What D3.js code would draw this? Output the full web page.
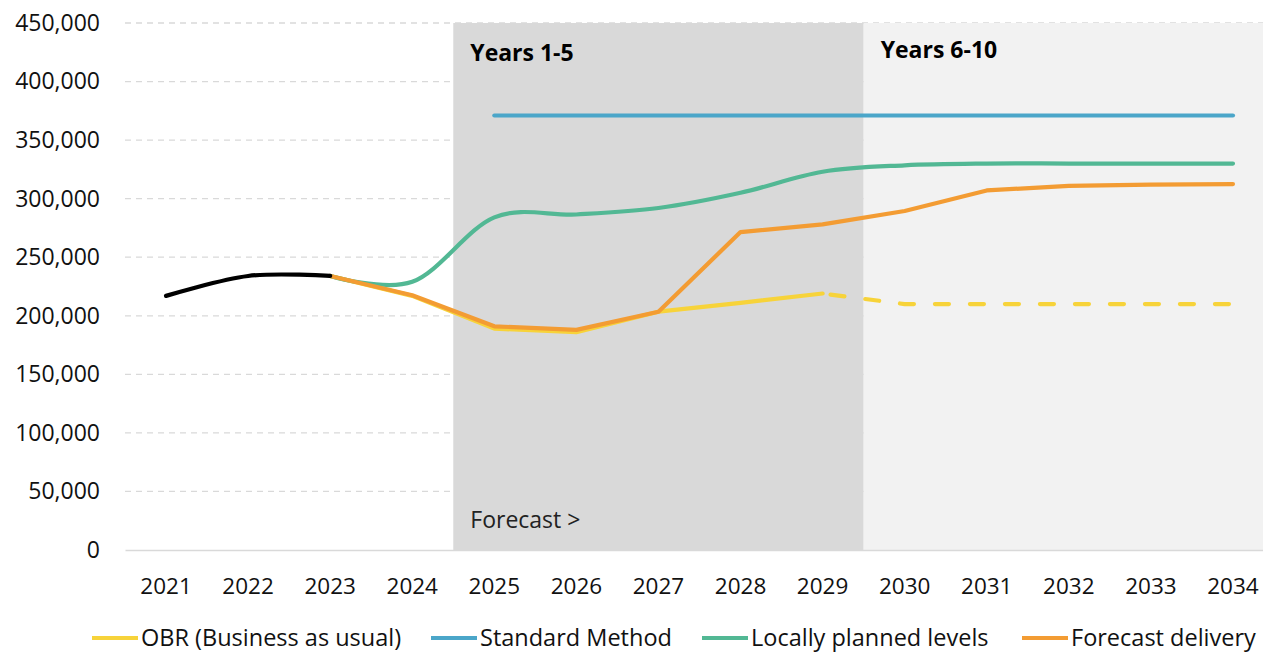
<!DOCTYPE html>
<html>
<head>
<meta charset="utf-8">
<script src="https://cdn.jsdelivr.net/npm/d3@7"></script>
<style>
  html, body { margin: 0; padding: 0; background: #ffffff; }
  svg { display: block; font-family: "Open Sans", "Noto Sans", sans-serif; }
</style>
</head>
<body>
<svg id="chart" width="1263" height="653"></svg>
<script>
// Housing supply projections, 2021–2034
const years = [2021, 2022, 2023, 2024, 2025, 2026, 2027, 2028, 2029, 2030, 2031, 2032, 2033, 2034];
const yTicks = [0, 50000, 100000, 150000, 200000, 250000, 300000, 350000, 400000, 450000];

// Observed history (black)
const historical = [217000, 234000, 234000, null, null, null, null, null, null, null, null, null, null, null];
// OBR (Business as usual): solid through 2029, dashed afterwards
const obr = [null, null, 234000, 217000, 189000, 186000, 203500, 211000, 219000, 210000, 210000, 210000, 210000, 210000];
const obrSolidEnd = 2029;
// Standard Method
const standardMethod = [null, null, null, null, 371000, 371000, 371000, 371000, 371000, 371000, 371000, 371000, 371000, 371000];
// Locally planned levels
const locallyPlanned = [null, null, 234000, 229000, 284000, 286500, 292000, 305000, 323000, 328500, 330000, 330000, 330000, 330000];
// Forecast delivery
const forecastDelivery = [null, null, 234000, 217500, 191000, 188000, 203500, 271500, 278000, 289500, 307000, 311000, 312000, 312500];

// Shaded periods
const periods = [
  { label: "Years 1-5", from: 2025, to: 2029, fill: "#d9d9d9" },
  { label: "Years 6-10", from: 2030, to: 2034, fill: "#f2f2f2" }
];

const colors = {
  obr: "#f7d33a",
  standard: "#4ba6c9",
  local: "#52b894",
  forecast: "#f39c33",
  history: "#000000"
};

const svg = d3.select("#chart");
const W = 1263, H = 653;
const margin = { left: 125, right: -11, top: 23, bottom: 103 };

const x = d3.scaleBand().domain(years).range([margin.left, W - margin.right]).paddingInner(0).paddingOuter(0);
const y = d3.scaleLinear().domain([0, 450000]).range([H - margin.bottom, margin.top]);
const cx = yr => x(yr) + x.bandwidth() / 2;

// Gridlines
const grid = svg.append("g");
grid.selectAll("line").data(yTicks.filter(d => d > 0)).join("line")
  .attr("x1", margin.left).attr("x2", W)
  .attr("y1", d => y(d)).attr("y2", d => y(d))
  .attr("stroke", "#d9d9d9").attr("stroke-width", 1.3)
  .attr("stroke-dasharray", "6,5");

// Shaded periods
svg.append("g").selectAll("rect").data(periods).join("rect")
  .attr("x", d => x(d.from))
  .attr("y", y(450000))
  .attr("width", d => x(d.to) + x.bandwidth() - x(d.from))
  .attr("height", y(0) - y(450000))
  .attr("fill", d => d.fill);

svg.append("g").selectAll("text").data(periods).join("text")
  .attr("x", d => x(d.from) + 17)
  .attr("y", (d, i) => i === 0 ? 61 : 58)
  .attr("font-size", 23).attr("font-weight", 700).attr("fill", "#000")
  .text(d => d.label);

svg.append("text")
  .attr("x", x(2025) + 17).attr("y", 528)
  .attr("font-size", 23).attr("fill", "#222")
  .text("Forecast >");

// Axes
const yAxis = d3.axisLeft(y).tickValues(yTicks).tickFormat(d3.format(",")).tickSize(0).tickPadding(0);
const gy = svg.append("g").attr("transform", `translate(100,0)`).call(yAxis);
gy.select(".domain").remove();
gy.selectAll("text").attr("font-size", 23).attr("fill", "#111").attr("font-family", "'Open Sans', sans-serif");

const xAxis = d3.axisBottom(x).tickSize(0).tickPadding(0);
const gx = svg.append("g").attr("transform", `translate(0,${y(0)})`).call(xAxis);
gx.select(".domain").attr("stroke", "#d9d9d9").attr("stroke-width", 1.5);
gx.selectAll("text").attr("dy", 0).attr("y", 44).attr("font-size", 22.5).attr("fill", "#111")
  .attr("font-family", "'Open Sans', sans-serif");

// Series helpers
const pts = arr => years.map((yr, i) => ({ yr, v: arr[i] })).filter(d => d.v != null);
const linear = d3.line().x(d => cx(d.yr)).y(d => y(d.v)).curve(d3.curveLinear);
const smooth = d3.line().x(d => cx(d.yr)).y(d => y(d.v)).curve(d3.curveCardinal.tension(0));

const lines = svg.append("g").attr("fill", "none").attr("stroke-width", 4.2).attr("stroke-linecap", "round").attr("stroke-linejoin", "round");

const obrPts = pts(obr);
lines.append("path").attr("d", linear(obrPts.filter(d => d.yr <= obrSolidEnd)))
  .attr("stroke", colors.obr);
lines.append("path").attr("d", linear(obrPts.filter(d => d.yr >= obrSolidEnd)))
  .attr("stroke", colors.obr).attr("stroke-dasharray", "14,21").attr("stroke-linecap", "round")
  .attr("stroke-dashoffset", -8);

lines.append("path").attr("d", linear(pts(standardMethod))).attr("stroke", colors.standard);
lines.append("path").attr("d", smooth(pts(locallyPlanned))).attr("stroke", colors.local);
lines.append("path").attr("d", linear(pts(forecastDelivery))).attr("stroke", colors.forecast);
lines.append("path").attr("d", smooth(pts(historical))).attr("stroke", colors.history);

// Legend
const legendItems = [
  { label: "OBR (Business as usual)", color: colors.obr, x: 92 },
  { label: "Standard Method", color: colors.standard, x: 431 },
  { label: "Locally planned levels", color: colors.local, x: 702 },
  { label: "Forecast delivery", color: colors.forecast, x: 1022 }
];
const lg = svg.append("g").attr("transform", "translate(0,638)");
const li = lg.selectAll("g").data(legendItems).join("g").attr("transform", d => `translate(${d.x},0)`);
li.append("line").attr("x1", 0).attr("x2", 46).attr("y1", 0).attr("y2", 0)
  .attr("stroke", d => d.color).attr("stroke-width", 4);
li.append("text").attr("x", 49).attr("y", 0).attr("dy", "0.35em")
  .attr("font-size", 23.5).attr("fill", "#111").text(d => d.label);
</script>
</body>
</html>
